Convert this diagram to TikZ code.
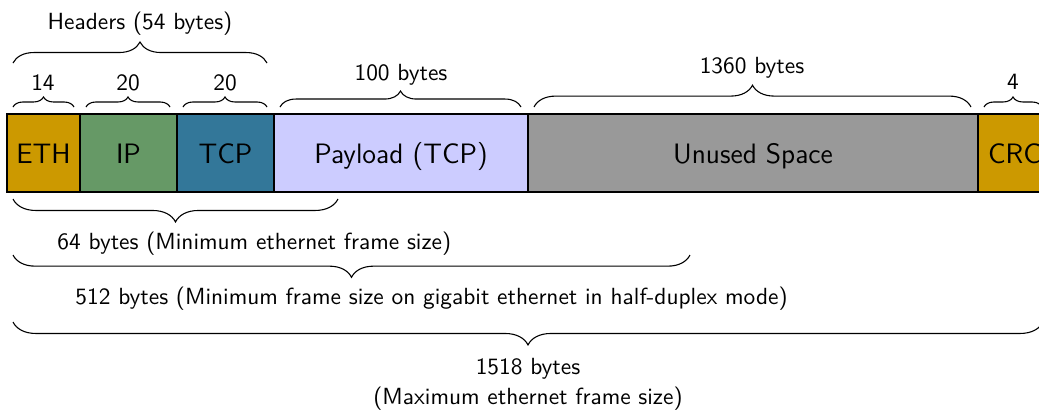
\documentclass[tikz,border=0pt]{standalone}
\usetikzlibrary{decorations.pathreplacing}
\definecolor{ethc}{RGB}{204,153,0}
\definecolor{ipc}{RGB}{102,153,102}
\definecolor{tcpc}{RGB}{51,119,153}
\definecolor{payc}{RGB}{204,204,255}
\definecolor{unusedc}{RGB}{153,153,153}
\newcommand{\normfont}{\fontsize{10.7pt}{12.8pt}\selectfont\sffamily}
\newcommand{\boxfont}{\fontsize{12.85pt}{15pt}\selectfont\sffamily}
\tikzset{
  fld/.style={draw, line width=0.6pt, anchor=north west, inner sep=0pt, outer sep=0pt,
    minimum height=35.7pt, font=\boxfont, text height=10.7pt, text depth=0.86pt},
  brc/.style={draw, line width=0.5pt, decorate, decoration={brace, amplitude=#1}},
  mbrc/.style={draw, line width=0.5pt, decorate, decoration={brace, mirror, amplitude=#1}},
  lbl/.style={font=\normfont, anchor=base, inner sep=0pt}
}
\begin{document}
\begin{tikzpicture}[x=0.458pt,y=-0.458pt]
\clip (0,0) rectangle (1039,410);
% boxes
\node[fld, fill=ethc, minimum width=33.43pt] (eth) at (7,114) {ETH};
\node[fld, fill=ipc, minimum width=44.43pt] (ip) at (eth.north east) {IP};
\node[fld, fill=tcpc, minimum width=44.43pt] (tcp) at (ip.north east) {TCP};
\node[fld, fill=payc, minimum width=116.33pt] (pay) at (tcp.north east) {Payload (TCP)};
\node[fld, fill=unusedc, minimum width=206.1pt] (unused) at (pay.north east) {Unused Space};
\node[fld, fill=ethc, minimum width=33.43pt, text width=30pt, align=left] (crc) at (unused.north east) {\hspace*{2.9pt}CRC};
% top braces
\draw[brc=9.6pt] (13,63) -- (267,63);
\node[lbl] (hdr) at (140,29) {Headers (54 bytes)};
\draw[brc=4.6pt] (13,107) -- (74,107);
\node[lbl] (l14) at (43,90) {14};
\draw[brc=4.6pt] (86,107) -- (170,107);
\node[lbl] (l20a) at (128,90) {20};
\draw[brc=4.6pt] (183,107) -- (267,107);
\node[lbl] (l20b) at (225,90) {20};
\draw[brc=7.3pt] (280,107) -- (521,107);
\node[lbl] (l100) at (401,80) {100 bytes};
\draw[brc=10pt] (534,107) -- (971,107);
\node[lbl] (l1360) at (752,73) {1360 bytes};
\draw[brc=4.6pt] (984,107) -- (1042,107);
\node[lbl] (l4) at (1013,89) {4};
% bottom braces
\draw[mbrc=10.5pt] (13,199) -- (338,199);
\node[lbl, anchor=base west] (l64) at (57,249) {64 bytes (Minimum ethernet frame size)};
\draw[mbrc=10.2pt] (13,255) -- (690,255);
\node[lbl, anchor=base west] (l512) at (75,304) {512 bytes (Minimum frame size on gigabit ethernet in half-duplex mode)};
\draw[mbrc=10.5pt] (13,322) -- (1043,322);
\node[lbl] (l1518) at (528,374) {1518 bytes};
\node[lbl] (lmax) at (528,404) {(Maximum ethernet frame size)};
\end{tikzpicture}
\end{document}
